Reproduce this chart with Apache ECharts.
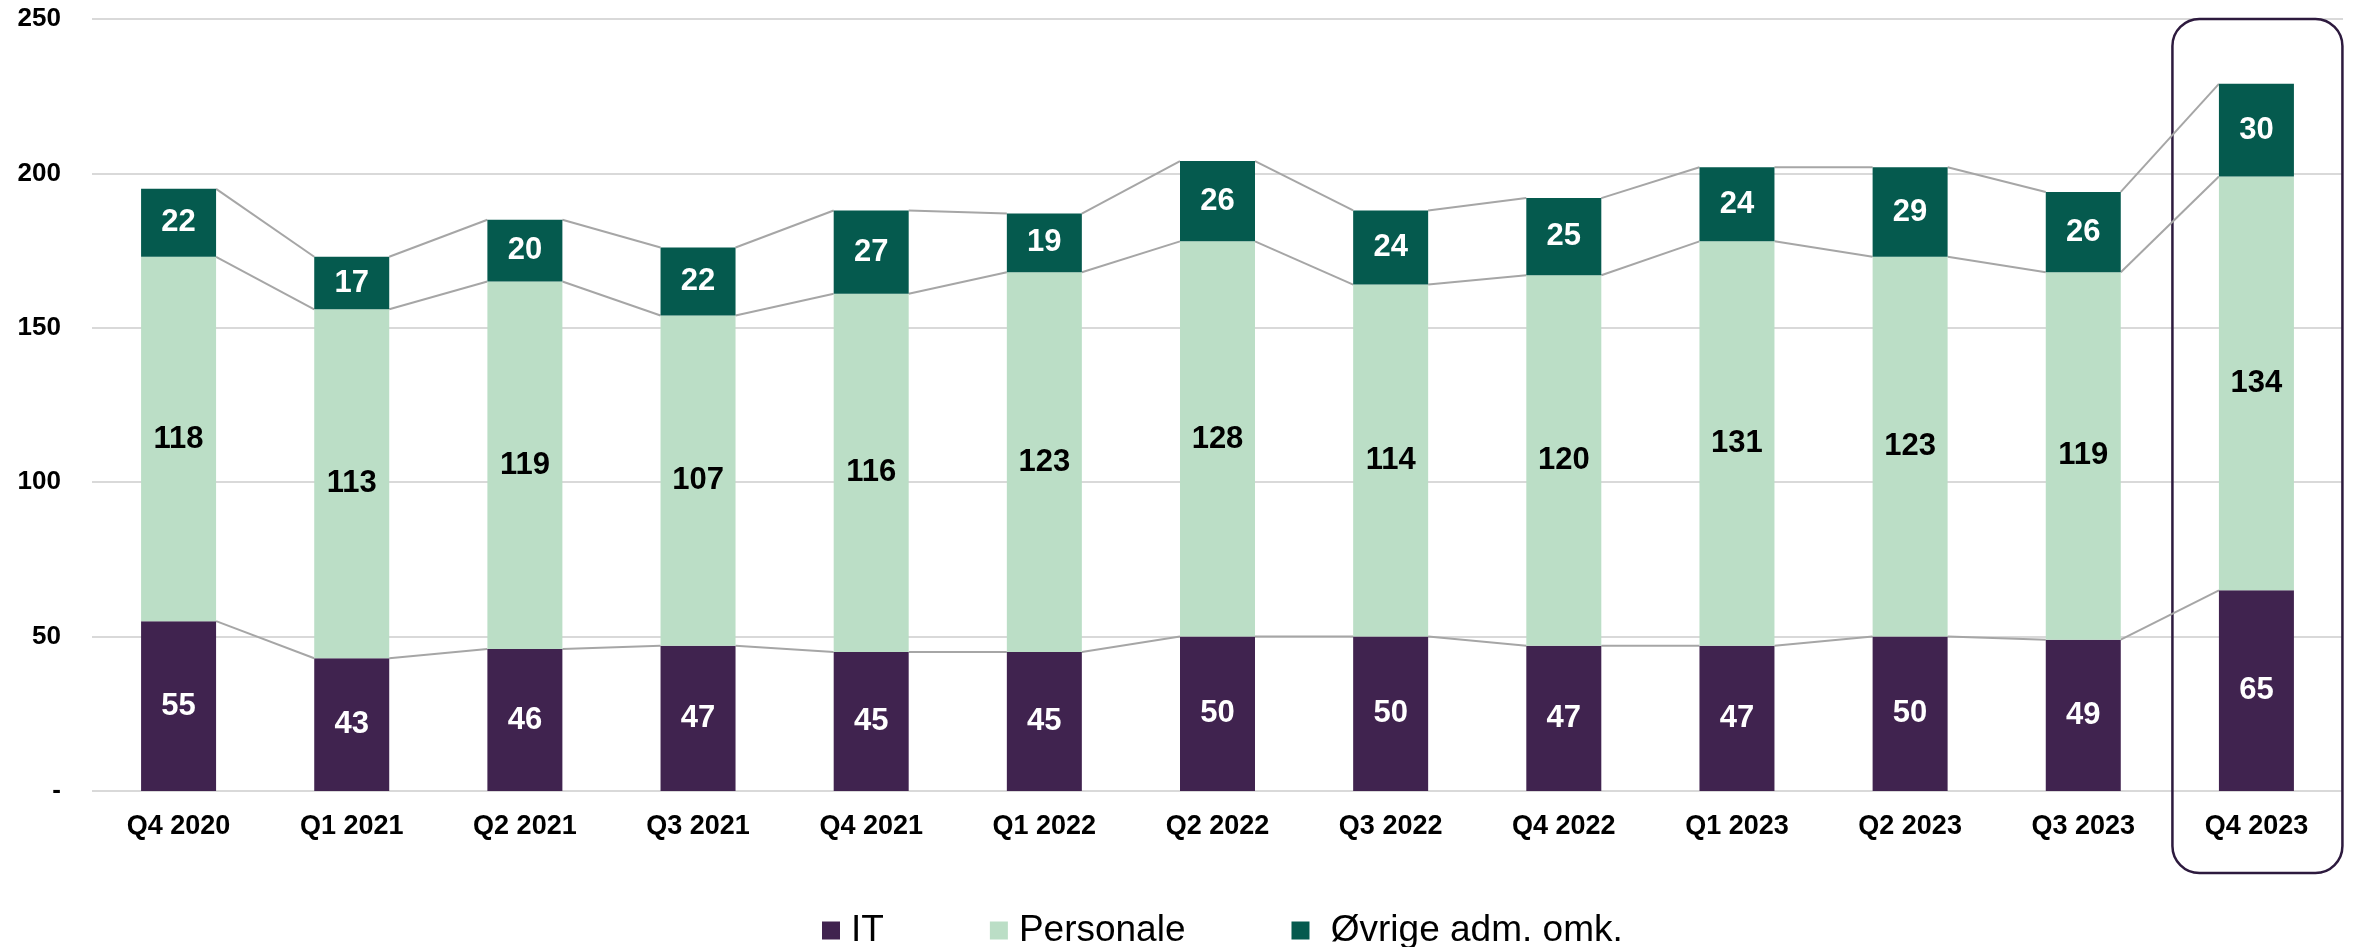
<!DOCTYPE html>
<html>
<head>
<meta charset="utf-8">
<script src="https://cdn.jsdelivr.net/npm/echarts@6/dist/echarts.min.js"></script>
<style>
  html, body { margin: 0; padding: 0; background: #fff; }
  #chart { width: 2356px; height: 947px; }
</style>
</head>
<body>
<div id="chart"></div>
<script>
// data
var quarters = ['Q4 2020', 'Q1 2021', 'Q2 2021', 'Q3 2021', 'Q4 2021', 'Q1 2022', 'Q2 2022',
  'Q3 2022', 'Q4 2022', 'Q1 2023', 'Q2 2023', 'Q3 2023', 'Q4 2023'];
var itCost = [55, 43, 46, 47, 45, 45, 50, 50, 47, 47, 50, 49, 65];
var staffCost = [118, 113, 119, 107, 116, 123, 128, 114, 120, 131, 123, 119, 134];
var otherCost = [22, 17, 20, 22, 27, 19, 26, 24, 25, 24, 29, 26, 30];
var yTicks = [0, 50, 100, 150, 200, 250];

var FONT = '"Liberation Sans", Arial, sans-serif';
var BAR_W = 75;

// cumulative tops, used for the thin connector lines
var topIt = [], topStaff = [], topAll = [];
for (var i = 0; i < quarters.length; i++) {
  topIt.push(itCost[i]);
  topStaff.push(itCost[i] + staffCost[i]);
  topAll.push(itCost[i] + staffCost[i] + otherCost[i]);
}
var connectorData = quarters.map(function (q, i) { return [i, topIt[i], topStaff[i], topAll[i]]; });

var chart = echarts.init(document.getElementById('chart'));

function barLabel(color) {
  return {
    show: true,
    position: 'inside',
    color: color,
    fontFamily: FONT,
    fontWeight: 'bold',
    fontSize: 31
  };
}

var option = {
  animation: false,
  grid: { left: 92, right: 13, top: 19, bottom: 156, containLabel: false, outerBoundsMode: 'none' },
  legend: {
    left: 817,
    top: 907,
    icon: 'rect',
    itemWidth: 18,
    itemHeight: 18,
    itemGap: 106,
    textStyle: { fontFamily: FONT, fontSize: 37, color: '#000', lineHeight: 37, padding: [0, 0, 0, 6] },
    formatter: function (name) { return name.charAt(0) === 'Ø' ? ' ' + name : name; },
    data: ['IT', 'Personale', 'Øvrige adm. omk.']
  },
  xAxis: {
    type: 'category',
    data: quarters,
    axisLine: { show: false },
    axisTick: { show: false },
    axisLabel: { margin: 22, color: '#000', fontFamily: FONT, fontWeight: 'bold', fontSize: 27 }
  },
  yAxis: {
    type: 'value',
    min: yTicks[0],
    max: yTicks[yTicks.length - 1],
    interval: 50,
    axisLine: { show: false },
    axisTick: { show: false },
    splitLine: { lineStyle: { color: '#d9d9d9', width: 2 } },
    axisLabel: {
      margin: 31,
      color: '#000',
      fontFamily: FONT,
      fontWeight: 'bold',
      fontSize: 26,
      formatter: function (v) { return v === 0 ? '-' : v; }
    }
  },
  series: [
    {
      name: 'IT', type: 'bar', stack: 'cost', barWidth: BAR_W,
      itemStyle: { color: '#40234f' },
      label: barLabel('#fff'),
      data: itCost
    },
    {
      name: 'Personale', type: 'bar', stack: 'cost', barWidth: BAR_W,
      itemStyle: { color: '#bbdec6' },
      label: barLabel('#000'),
      data: staffCost
    },
    {
      name: 'Øvrige adm. omk.', type: 'bar', stack: 'cost', barWidth: BAR_W,
      itemStyle: { color: '#055a4e' },
      label: barLabel('#fff'),
      data: otherCost
    },
    {
      // series lines between neighbouring bars
      type: 'custom',
      silent: true,
      z: 1,
      data: connectorData,
      renderItem: function (params, api) {
        var idx = params.dataIndex;
        if (idx >= quarters.length - 1) return null;
        var tops = [topIt, topStaff, topAll];
        var kids = [];
        for (var k = 0; k < 3; k++) {
          var a = api.coord([idx, api.value(k + 1)]);
          var b = api.coord([idx + 1, tops[k][idx + 1]]);
          kids.push({
            type: 'line',
            shape: { x1: a[0] + BAR_W / 2, y1: a[1], x2: b[0] - BAR_W / 2, y2: b[1] },
            style: { stroke: '#a6a6a6', lineWidth: 2 }
          });
        }
        return { type: 'group', children: kids };
      }
    }
  ]
};
chart.setOption(option);

// rounded frame around the latest quarter
var lastX = chart.convertToPixel({ xAxisIndex: 0 }, quarters[quarters.length - 1]);
var topY = chart.convertToPixel({ yAxisIndex: 0 }, yTicks[yTicks.length - 1]);
chart.setOption({
  graphic: [{
    type: 'rect',
    silent: true,
    shape: { x: lastX - 84, y: topY, width: 170, height: 854, r: 27 },
    style: { fill: 'none', stroke: '#2d1a3e', lineWidth: 2.5 }
  }]
});
</script>
</body>
</html>
